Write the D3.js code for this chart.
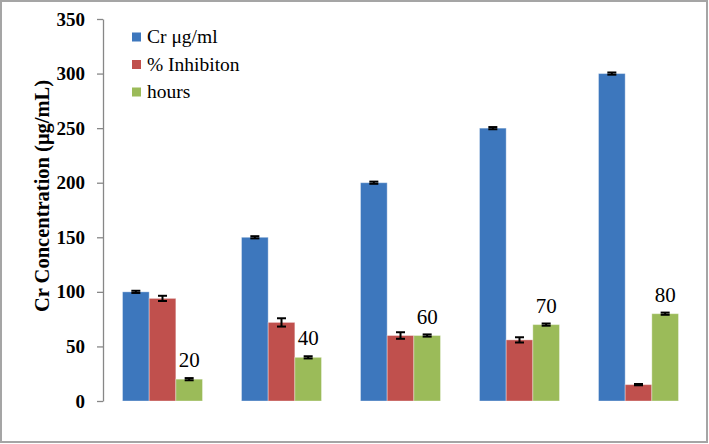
<!DOCTYPE html>
<html>
<head>
<meta charset="utf-8">
<script src="https://cdn.jsdelivr.net/npm/d3@7"></script>
<style>
  body { margin: 0; background: #fff; }
  svg { display: block; }
</style>
</head>
<body>
<svg id="chart" width="709" height="444"></svg>
<script>
// data
var groups = ["1", "2", "3", "4", "5"];
var seriesNames = ["Cr μg/ml", "% Inhibiton", "hours"];
var seriesColors = ["#3d77bd", "#c0504d", "#9bbb59"];
var crValues = [100, 150, 200, 250, 300];
var inhibitionValues = [94, 72, 60, 56, 15];
var hoursValues = [20, 40, 60, 70, 80];
var crErrors = [1, 1, 1, 1, 1];
var inhibitionErrors = [2.4, 3.8, 3, 2.4, 0.6];
var hoursErrors = [1, 1, 1, 1, 1];
var hoursLabels = ["20", "40", "60", "70", "80"];
var yTicks = [0, 50, 100, 150, 200, 250, 300, 350];

var svg = d3.select("#chart");

// note: "top" is taken by window.top, so plot edges get their own names
var plotLeft = 103, plotRight = 698, plotTop = 19, plotBottom = 401;
var serif = "'Liberation Serif', 'Times New Roman', serif";

var xScale = d3.scaleBand().domain(groups).range([plotLeft, plotRight])
  .paddingInner(0.328).paddingOuter(0.164);
var subScale = d3.scaleBand().domain(d3.range(3)).range([0, xScale.bandwidth()]);
var yScale = d3.scaleLinear().domain([0, 350]).range([plotBottom, plotTop]);

// outer frame
svg.append("rect")
  .attr("x", 1).attr("y", 1).attr("width", 706).attr("height", 441)
  .attr("fill", "none").attr("stroke", "#a5a5a5").attr("stroke-width", 2);

// y axis
var yAxis = d3.axisLeft(yScale).tickValues(yTicks).tickSize(6).tickSizeOuter(0).tickPadding(12);
var gy = svg.append("g").attr("transform", "translate(" + plotLeft + ",0)").call(yAxis);
gy.select(".domain").attr("stroke", "#878787").attr("stroke-width", 1.3);
gy.selectAll(".tick line").attr("stroke", "#878787").attr("stroke-width", 1.3);
gy.selectAll(".tick text")
  .attr("fill", "#000")
  .style("font-family", serif)
  .style("font-weight", "bold")
  .style("font-size", "19px");

svg.append("text")
  .attr("transform", "translate(49,196) rotate(-90)")
  .attr("text-anchor", "middle")
  .style("font-family", serif)
  .style("font-weight", "bold")
  .style("font-size", "20.5px")
  .text("Cr Concentration (μg/mL)");

var series = [
  { values: crValues, errors: crErrors },
  { values: inhibitionValues, errors: inhibitionErrors },
  { values: hoursValues, errors: hoursErrors }
];

var rows = [];
series.forEach(function (s, si) {
  groups.forEach(function (g, gi) {
    rows.push({ group: g, series: si, value: s.values[gi], err: s.errors[gi] });
  });
});

var bars = svg.append("g");
bars.selectAll(".bar")
  .data(rows)
  .enter()
  .append("rect")
  .attr("class", "bar")
  .attr("x", d => xScale(d.group) + subScale(d.series))
  .attr("y", d => yScale(d.value))
  .attr("width", subScale.bandwidth())
  .attr("height", d => yScale(0) - yScale(d.value))
  .attr("fill", d => seriesColors[d.series])
  .attr("stroke", "#ffffff")
  .attr("stroke-opacity", 0.35)
  .attr("stroke-width", 1);

// error bars
var errG = svg.append("g").attr("stroke", "#000").attr("stroke-width", 2);
rows.forEach(function (d) {
  var cx = xScale(d.group) + subScale(d.series) + subScale.bandwidth() / 2;
  var y1 = yScale(d.value + d.err), y2 = yScale(d.value - d.err);
  errG.append("line").attr("x1", cx).attr("x2", cx).attr("y1", y1).attr("y2", y2);
  errG.append("line").attr("x1", cx - 4.5).attr("x2", cx + 4.5).attr("y1", y1).attr("y2", y1);
  errG.append("line").attr("x1", cx - 4.5).attr("x2", cx + 4.5).attr("y1", y2).attr("y2", y2);
});

// labels over hours bars
svg.append("g").selectAll(".label")
  .data(groups)
  .enter()
  .append("text")
  .attr("class", "label")
  .attr("x", (g) => xScale(g) + subScale(2) + subScale.bandwidth() / 2)
  .attr("y", (g, i) => yScale(hoursValues[i]) - 12)
  .attr("text-anchor", "middle")
  .style("font-family", serif)
  .style("font-size", "21px")
  .text((g, i) => hoursLabels[i]);

// legend
var legend = svg.append("g").selectAll(".legend")
  .data(seriesNames)
  .enter()
  .append("g")
  .attr("class", "legend")
  .attr("transform", (d, i) => "translate(132," + (37 + i * 27.5) + ")");
legend.append("rect")
  .attr("x", 0).attr("y", -4.5).attr("width", 9).attr("height", 9)
  .attr("fill", (d, i) => seriesColors[i]);
legend.append("text")
  .attr("x", 15).attr("y", 6)
  .style("font-family", serif)
  .style("font-size", "19.5px")
  .text(d => d);
</script>
</body>
</html>
